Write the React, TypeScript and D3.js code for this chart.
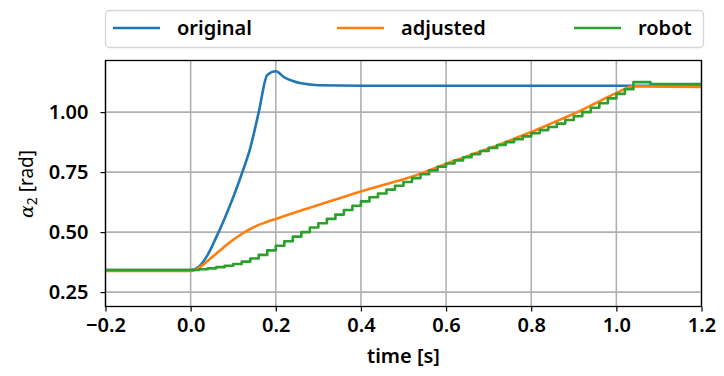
import { useEffect, useRef } from "react";
import * as d3 from "d3";

// original trajectory (blue)
const origT = [-0.2, 0.0, 0.02, 0.04, 0.06, 0.08, 0.10, 0.12, 0.14, 0.16, 0.18, 0.20, 0.22, 0.24, 0.26, 0.28, 0.30, 0.40, 1.2];
const origV = [0.342, 0.342, 0.357, 0.405, 0.478, 0.558, 0.645, 0.742, 0.85, 1.0, 1.155, 1.17, 1.145, 1.13, 1.12, 1.115, 1.112, 1.11, 1.11];

// adjusted trajectory (orange)
const adjT = [-0.2, 0.0, 0.02, 0.04, 0.06, 0.08, 0.10, 0.12, 0.14, 0.16, 0.18, 0.20, 0.25, 0.30, 0.35, 0.40, 0.45, 0.50, 0.55, 0.60, 0.65, 0.70, 0.75, 0.80, 0.85, 0.90, 0.95, 1.00, 1.04, 1.2];
const adjV = [0.338, 0.338, 0.352, 0.38, 0.41, 0.44, 0.468, 0.492, 0.513, 0.53, 0.543, 0.555, 0.585, 0.613, 0.641, 0.669, 0.695, 0.72, 0.75, 0.785, 0.816, 0.848, 0.882, 0.917, 0.955, 0.993, 1.036, 1.08, 1.107, 1.105];

// robot joint samples (green, zero-order hold)
const robotT = [-0.2, 0.00, 0.02, 0.04, 0.06, 0.08, 0.10, 0.12, 0.14, 0.16, 0.18, 0.20, 0.22, 0.24, 0.26, 0.28, 0.30, 0.32, 0.34, 0.36, 0.38, 0.40, 0.42, 0.44, 0.46, 0.48, 0.50, 0.52, 0.54, 0.56, 0.58, 0.60, 0.62, 0.64, 0.66, 0.68, 0.70, 0.72, 0.74, 0.76, 0.78, 0.80, 0.82, 0.84, 0.86, 0.88, 0.90, 0.92, 0.94, 0.96, 0.98, 1.00, 1.02, 1.04, 1.06, 1.08, 1.10, 1.2];
const robotV = [0.342, 0.342, 0.345, 0.349, 0.354, 0.360, 0.367, 0.377, 0.390, 0.405, 0.424, 0.443, 0.462, 0.481, 0.500, 0.519, 0.537, 0.555, 0.573, 0.592, 0.610, 0.628, 0.645, 0.661, 0.677, 0.693, 0.709, 0.725, 0.741, 0.757, 0.772, 0.786, 0.799, 0.812, 0.825, 0.838, 0.851, 0.863, 0.875, 0.887, 0.899, 0.912, 0.925, 0.938, 0.952, 0.967, 0.983, 1.000, 1.018, 1.037, 1.057, 1.076, 1.095, 1.125, 1.125, 1.117, 1.117, 1.117];

const xTicks = [-0.2, 0.0, 0.2, 0.4, 0.6, 0.8, 1.0, 1.2];
const yTicks = [0.25, 0.5, 0.75, 1.0];
const seriesNames = ["original", "adjusted", "robot"];
const colors = ["#1f77b4", "#ff7f0e", "#2ca02c"];

const FONT = "'Noto Sans', sans-serif";
const WEIGHT = 600;

export default function App() {
  const svgRef = useRef<SVGSVGElement>(null);

  useEffect(() => {
    if (!svgRef.current) return;
    const svg = d3.select(svgRef.current);
    svg.selectAll("*").remove();

    const L = 105.5, R = 701.5, T = 60.5, B = 306.5;
    const x = d3.scaleLinear().domain([-0.2, 1.2]).range([L, R]);
    const y = d3.scaleLinear().domain([0.19, 1.215]).range([B, T]);

    svg.append("rect").attr("width", 724).attr("height", 376).attr("fill", "#fff");

    // grid
    const grid = svg.append("g").attr("stroke", "#b0b0b0").attr("stroke-width", 1.6);
    xTicks.forEach(t => grid.append("line")
      .attr("x1", x(t)).attr("x2", x(t)).attr("y1", T).attr("y2", B));
    yTicks.forEach(t => grid.append("line")
      .attr("x1", L).attr("x2", R).attr("y1", y(t)).attr("y2", y(t)));

    const clip = svg.append("clipPath").attr("id", "plotclip");
    clip.append("rect").attr("x", L).attr("y", T).attr("width", R - L).attr("height", B - T);
    const plot = svg.append("g").attr("clip-path", "url(#plotclip)");

    const smooth = d3.line<[number, number]>()
      .x(d => x(d[0])).y(d => y(d[1])).curve(d3.curveMonotoneX);
    const steps = d3.line<[number, number]>()
      .x(d => x(d[0])).y(d => y(d[1])).curve(d3.curveStepAfter);

    plot.append("path").datum(d3.zip(origT, origV) as [number, number][])
      .attr("d", smooth).attr("fill", "none").attr("stroke", colors[0])
      .attr("stroke-width", 2.6).attr("stroke-linejoin", "round");
    plot.append("path").datum(d3.zip(adjT, adjV) as [number, number][])
      .attr("d", smooth).attr("fill", "none").attr("stroke", colors[1])
      .attr("stroke-width", 2.6).attr("stroke-linejoin", "round");
    plot.append("path").datum(d3.zip(robotT, robotV) as [number, number][])
      .attr("d", steps).attr("fill", "none").attr("stroke", colors[2])
      .attr("stroke-width", 2.6).attr("stroke-linejoin", "round");

    // axes
    const fmtX = (d: number) => d3.format(".1f")(d).replace("-", "\u2212");
    svg.append("g").attr("transform", `translate(0,${B})`)
      .call(d3.axisBottom(x).tickValues(xTicks).tickSize(5).tickPadding(6).tickFormat(d => fmtX(+d)))
      .call(ax => ax.select(".domain").remove())
      .call(ax => ax.selectAll(".tick line").attr("stroke", "#000").attr("stroke-width", 1.2))
      .call(ax => ax.selectAll(".tick text").attr("fill", "#000").attr("font-size", 20)
        .attr("font-family", FONT).attr("font-weight", WEIGHT));
    svg.append("g").attr("transform", `translate(${L},0)`)
      .call(d3.axisLeft(y).tickValues(yTicks).tickSize(5).tickPadding(12).tickFormat(d => d3.format(".2f")(+d)))
      .call(ax => ax.select(".domain").remove())
      .call(ax => ax.selectAll(".tick line").attr("stroke", "#000").attr("stroke-width", 1.2))
      .call(ax => ax.selectAll(".tick text").attr("fill", "#000").attr("font-size", 20)
        .attr("font-family", FONT).attr("font-weight", WEIGHT));

    svg.append("rect").attr("x", L).attr("y", T).attr("width", R - L).attr("height", B - T)
      .attr("fill", "none").attr("stroke", "#000").attr("stroke-width", 1.3);

    // axis labels
    svg.append("text").attr("x", (L + R) / 2).attr("y", 363).attr("text-anchor", "middle")
      .attr("font-family", FONT).attr("font-size", 20).attr("font-weight", WEIGHT).text("time [s]");
    const yl = svg.append("text").attr("transform", "translate(33,184) rotate(-90)")
      .attr("text-anchor", "middle").attr("font-family", FONT).attr("font-size", 19);
    yl.append("tspan").attr("font-style", "italic").attr("font-family", "'DejaVu Serif', serif").text("α");
    yl.append("tspan").attr("font-size", 14).attr("dy", 4).text("2");
    yl.append("tspan").attr("dy", -4).text(" [rad]");

    // legend
    const lg = svg.append("g");
    lg.append("rect").attr("x", 105.5).attr("y", 10.5).attr("width", 598).attr("height", 37)
      .attr("rx", 4).attr("fill", "#fff").attr("stroke", "#d6d6d6").attr("stroke-width", 1.3);
    const lineX = [113, 337, 574];
    const textX = [177, 401, 638];
    seriesNames.forEach((name, i) => {
      lg.append("line").attr("x1", lineX[i]).attr("x2", lineX[i] + 47).attr("y1", 28).attr("y2", 28)
        .attr("stroke", colors[i]).attr("stroke-width", 2.6);
      lg.append("text").attr("x", textX[i]).attr("y", 35).attr("font-family", FONT)
        .attr("font-size", 20).attr("font-weight", WEIGHT).text(name);
    });
  }, []);

  return (
    <svg ref={svgRef} width={724} height={376}
      style={{ position: "absolute", left: 0, top: 0, display: "block" }} />
  );
}
